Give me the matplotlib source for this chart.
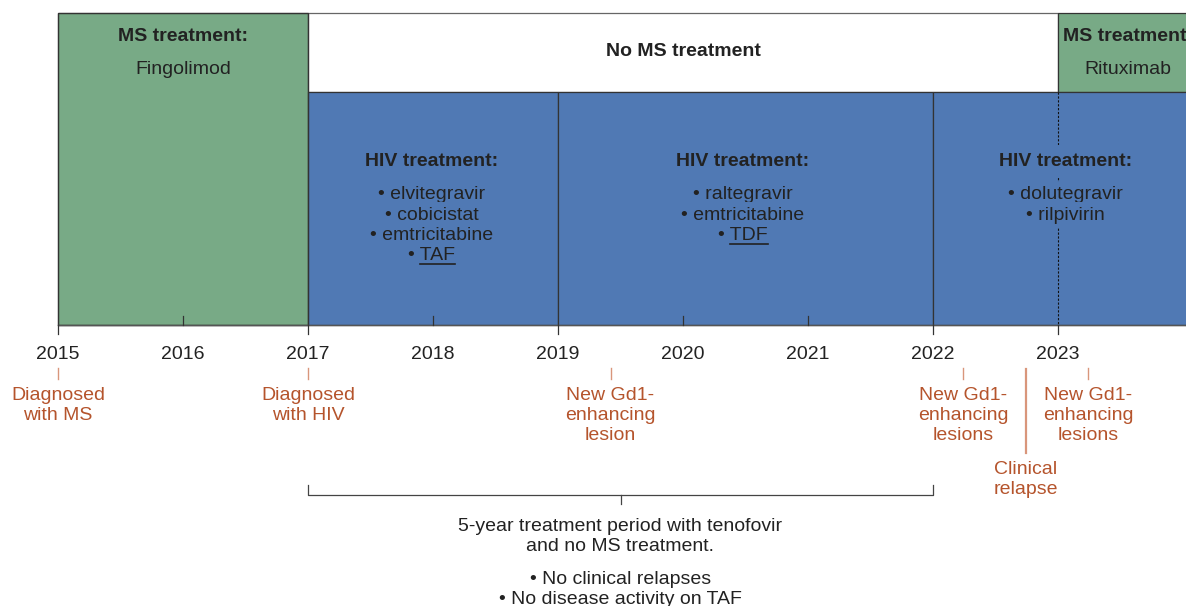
import matplotlib
matplotlib.use("Agg")
import matplotlib.pyplot as plt
from matplotlib.patches import Rectangle

plt.rcParams['font.family'] = ['Liberation Sans', 'DejaVu Sans']

# ---------------- data ----------------
years = [2015, 2016, 2017, 2018, 2019, 2020, 2021, 2022, 2023]
boundary_years = [2015, 2017, 2019, 2022, 2023]

ms_titles = ["MS treatment:", "No MS treatment", "MS treatment:"]
ms_drugs = ["Fingolimod", "", "Rituximab"]
ms_starts = [2015, 2017, 2023]
ms_ends = [2017, 2023, 2024.6]
ms_text_x = [2016, 2020, 2023.56]
ms_fill = ["green", "white", "green"]

hiv_starts = [2017, 2019, 2022]
hiv_ends = [2019, 2022, 2024.6]
hiv_text_x = [2017.99, 2020.48, 2023.06]
hiv_drugs = [["elvitegravir", "cobicistat", "emtricitabine", "TAF"],
             ["raltegravir", "emtricitabine", "TDF"],
             ["dolutegravir", "rilpivirin"]]
hiv_underlined = ["TAF", "TDF", None]

event_x = [2015, 2017, 2019.42, 2022.24, 2023.24]
event_labels = ["Diagnosed\nwith MS", "Diagnosed\nwith HIV",
                "New Gd1-\nenhancing\nlesion",
                "New Gd1-\nenhancing\nlesions",
                "New Gd1-\nenhancing\nlesions"]
relapse_x = 2022.74
relapse_label = "Clinical\nrelapse"

period_start, period_end = 2017, 2022
period_text = ["5-year treatment period with tenofovir",
               "and no MS treatment."]
period_bullets = ["\u2022 No clinical relapses",
                  "\u2022 No disease activity on TAF"]

# ---------------- style ----------------
GREEN = "#78AA86"
BLUE = "#5079B4"
DARK = "#222222"
EDGE = "#333333"
ORANGE_T = "#B5542C"
ORANGE_L = "#D9967B"
FS = 14

W, H = 1186, 606
fig = plt.figure(figsize=(W / 100, H / 100), dpi=100)
ax = fig.add_axes([0, 0, 1, 1])
px_per_year = 125.0
x0 = 2015 - 58 / px_per_year
ax.set_xlim(x0, x0 + W / px_per_year)
ax.set_ylim(H, 0)
ax.axis("off")

# layout (pixel rows)
Y_TOP, Y_MID, Y_AXIS = 13, 92, 325

colors = {"green": GREEN, "white": "white"}
# MS boxes
for s, e, c in zip(ms_starts, ms_ends, ms_fill):
    bottom = Y_AXIS if (c == "green" and s == 2015) else Y_MID
    ec = EDGE if c == "green" else "#666666"
    ax.add_patch(Rectangle((s, Y_TOP), e - s, bottom - Y_TOP, facecolor=colors[c],
                           edgecolor=ec, linewidth=0.9, zorder=1))
# HIV boxes
for s, e in zip(hiv_starts, hiv_ends):
    ax.add_patch(Rectangle((s, Y_MID), e - s, Y_AXIS - Y_MID, facecolor=BLUE,
                           edgecolor=EDGE, linewidth=0.9, zorder=1))
# redraw left green box edge over blue
ax.add_patch(Rectangle((ms_starts[0], Y_TOP), ms_ends[0] - ms_starts[0], Y_AXIS - Y_TOP,
                       facecolor="none", edgecolor=EDGE, linewidth=0.9, zorder=2))
# dashed line at 2023 inside blue box
ax.plot([2023, 2023], [Y_MID, Y_AXIS], color="#111111", lw=0.8,
        ls=(0, (2, 1.5)), zorder=2)

# MS texts
for t, d, x in zip(ms_titles, ms_drugs, ms_text_x):
    if d:
        ax.text(x, 41, t, ha="center", va="baseline", fontsize=FS,
                fontweight="bold", color=DARK, zorder=5, clip_on=True)
        ax.text(x, 74, d, ha="center", va="baseline", fontsize=FS,
                color=DARK, zorder=5, clip_on=True)
    else:
        ax.text(x, 56, t, ha="center", va="baseline", fontsize=FS,
                fontweight="bold", color=DARK, zorder=5)

# HIV texts
underline_targets = []
for x, drugs, ul in zip(hiv_text_x, hiv_drugs, hiv_underlined):
    ax.text(x, 166, "HIV treatment:", ha="center", va="baseline", fontsize=FS,
            fontweight="bold", color=DARK, zorder=5,
            bbox=dict(facecolor=BLUE, edgecolor="none", pad=6))
    for i, d in enumerate(drugs):
        tt = ax.text(x, 199 + 20.5 * i, "\u2022 " + d, ha="center", va="baseline",
                     fontsize=FS, color=DARK, zorder=5,
                     bbox=dict(facecolor=BLUE, edgecolor="none", pad=3))
        if d == ul:
            underline_targets.append((tt, d, 199 + 20.5 * i + 3.5))

# axis line
ax.plot([2015, x0 + W / px_per_year], [Y_AXIS, Y_AXIS], color="#555555", lw=1.0, zorder=3)
for y in years:
    if y in boundary_years:
        ax.plot([y, y], [Y_AXIS, 334], color=EDGE, lw=0.9, zorder=3)
    else:
        ax.plot([y, y], [316, Y_AXIS], color=EDGE, lw=0.9, zorder=3)
    ax.text(y, 359, str(y), ha="center", va="baseline", fontsize=FS, color=DARK)

# events
for x, lab in zip(event_x, event_labels):
    ax.plot([x, x], [368, 379], color=ORANGE_L, lw=1.0)
    for i, line in enumerate(lab.split("\n")):
        ax.text(x, 400 + 20 * i, line, ha="center", va="baseline", fontsize=FS,
                color=ORANGE_T)
ax.plot([relapse_x, relapse_x], [369, 453], color=ORANGE_L, lw=1.6)
for i, line in enumerate(relapse_label.split("\n")):
    ax.text(relapse_x, 474 + 19.5 * i, line, ha="center", va="baseline",
            fontsize=FS, color=ORANGE_T)

# bracket
mid = (period_start + period_end) / 2
ax.plot([period_start, period_start, period_end, period_end],
        [485, 495, 495, 485], color="#444444", lw=0.9)
ax.plot([mid, mid], [495, 504], color="#444444", lw=0.9)
for i, line in enumerate(period_text):
    ax.text(mid, 531 + 20 * i, line, ha="center", va="baseline", fontsize=FS, color=DARK)
for i, line in enumerate(period_bullets):
    ax.text(mid, 584.5 + 19 * i, line, ha="center", va="baseline", fontsize=FS, color=DARK)

# underlines
fig.canvas.draw()
r = fig.canvas.get_renderer()
inv = ax.transData.inverted()
for tt, word, yline in underline_targets:
    bb = tt.get_window_extent(renderer=r)
    tmp = ax.text(0, 0, word, fontsize=FS)
    wb = tmp.get_window_extent(renderer=r)
    tmp.remove()
    # text bbox includes pad of the bbox patch? window extent is text only
    x_right = bb.x1
    x_left = bb.x1 - wb.width
    xl = inv.transform((x_left, 0))[0]
    xr = inv.transform((x_right, 0))[0]
    ax.plot([xl, xr], [yline, yline], color=DARK, lw=1.2, zorder=6)

fig.savefig("out.png", dpi=100)
